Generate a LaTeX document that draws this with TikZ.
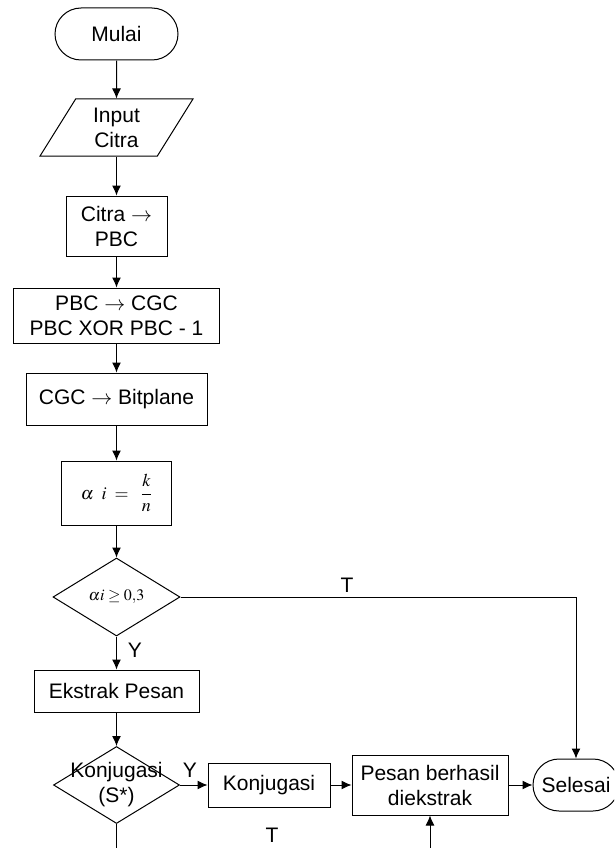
\documentclass[tikz,border=0pt]{standalone}
\usepackage{amsmath}
\usepackage{mathptmx}
\usepackage[no-math]{fontspec}
\setmainfont{Liberation Sans}
\usetikzlibrary{shapes.geometric,shapes.misc,arrows.meta}

\tikzset{
  terminal/.style={draw, rounded rectangle, minimum height=52pt, inner sep=2pt},
  proses/.style={draw, rectangle, align=center, inner sep=2pt},
  data/.style={draw, trapezium, trapezium left angle=63, trapezium right angle=117,
    trapezium stretches=true, align=center, inner sep=1pt},
  keputusan/.style={draw, diamond, inner sep=0pt},
  rumus/.style={font=\fontsize{16}{19}\selectfont},
  panah/.style={->, >={Latex[length=10pt,width=9pt]}},
}

\begin{document}
\begin{tikzpicture}[x=1pt,y=-1pt,line width=1pt,font=\fontsize{21}{25}\selectfont]
\useasboundingbox (0,0) rectangle (614,848);
\clip (0,0) rectangle (614,848);

\node[terminal, minimum width=127pt] (A1) at (116.5,34) {Mulai};
\node[data, minimum width=154pt, minimum height=57pt] (A2) at (116.5,127.5) {Input\\Citra};
\node[proses, minimum width=101pt, minimum height=60pt] (A3) at (116.5,226) {Citra $\rightarrow$\\PBC};
\node[proses, minimum width=206pt, minimum height=55pt] (A4) at (116.5,315.5) {PBC $\rightarrow$ CGC\\PBC XOR PBC - 1};
\node[proses, minimum width=181pt, minimum height=52pt] (A5) at (116.5,399) {CGC $\rightarrow$ Bitplane};
\node[proses, rumus, font=\fontsize{18}{21}\selectfont, minimum width=110pt, minimum height=64pt] (A6) at (116.5,493) {$\alpha\;\; i \;=\;\; \dfrac{k}{n}$};
\node[keputusan, rumus, minimum width=127pt, minimum height=78pt] (A7) at (116.5,597) {$\alpha i \geq 0{,}3$};
\node[proses, minimum width=165pt, minimum height=42pt] (A8) at (116.5,691) {Ekstrak Pesan};
\node[keputusan, minimum width=126pt, minimum height=77pt] (A9) at (116.5,785) {};
\node[align=center] (A9t) at (A9) {Konjugasi\\(S*)};

\node[proses, minimum width=122pt, minimum height=44pt] (B1) at (269,785) {Konjugasi};
\node[proses, minimum width=156pt, minimum height=60pt] (B2) at (430,785) {Pesan berhasil\\diekstrak};
\node[terminal, minimum width=90pt] (B3) at (576,785) {Selesai};

\coordinate (C1) at (116.5,870);

\path[panah] (A1) edge [] node[]{} (A2);
\path[panah] (A2) edge [] node[]{} (A3);
\path[panah] (A3) edge [] node[]{} (A4);
\path[panah] (A4) edge [] node[]{} (A5);
\path[panah] (A5) edge [] node[]{} (A6);
\path[panah] (A6) edge [] node[]{} (A7);
\path[panah] (A7) edge [] node[]{} (A8);
\path[panah] (A8) edge [] node[]{} (A9);

\path[panah] (A9) edge [] node[]{} (B1);
\path[panah] (B1) edge [] node[]{} (B2);
\path[panah] (B2) edge [] node[]{} (B3);

\draw[panah] (A7.east) -| (B3.north);
\draw[panah] (A9.south) -- (C1) -| (B2.south);

\node (L1) at (347,585) {T};
\node (L2) at (135,650) {Y};
\node (L3) at (190,770) {Y};
\node (L4) at (272,835) {T};
\end{tikzpicture}
\end{document}
